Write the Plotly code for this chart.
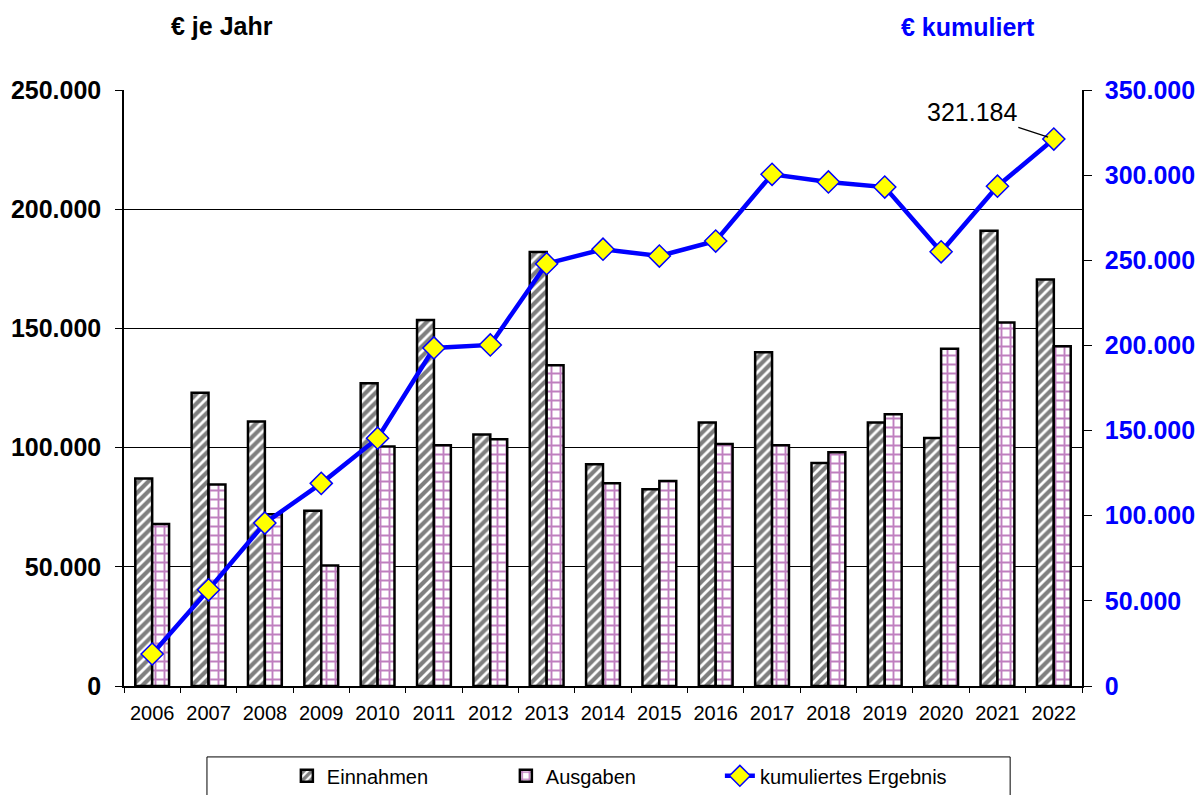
import plotly.graph_objects as go

years = [str(y) for y in range(2006, 2023)]
einnahmen = [87000, 123000, 111000, 73500, 127000, 153500, 105500, 182000, 93000,
             82500, 110500, 140000, 93500, 110500, 104000, 191000, 170500]
ausgaben = [68000, 84500, 72000, 50500, 100500, 101000, 103500, 134500, 85000,
            86000, 101500, 101000, 98000, 114000, 141500, 152500, 142500]
kumuliert = [18800, 56500, 95700, 119000, 145500, 198500, 200300, 248000, 256500,
             252500, 261300, 300500, 296000, 293000, 255000, 293500, 321184]

FONT = "Liberation Sans, Arial, sans-serif"

fig = go.Figure()
fig.add_trace(go.Bar(
    x=years, y=einnahmen, name="Einnahmen", legend="legend",
    marker=dict(color="white", line=dict(color="black", width=2.5),
                pattern=dict(shape="/", fgcolor="black", bgcolor="white", size=7, solidity=0.6)),
))
fig.add_trace(go.Bar(
    x=years, y=ausgaben, name="Ausgaben", legend="legend",
    marker=dict(color="white", line=dict(color="black", width=2.5),
                pattern=dict(shape="+", fgcolor="#800080", bgcolor="white", size=9, solidity=0.38)),
))
fig.add_trace(go.Scatter(
    x=years, y=kumuliert, name="kumuliertes Ergebnis", yaxis="y2", legend="legend2",
    mode="lines+markers",
    line=dict(color="#0000FF", width=4.5),
    marker=dict(symbol="diamond", size=17, color="#FFFF00", line=dict(color="#0000FF", width=1.5)),
))

last = len(years) - 1
fig.add_annotation(
    x=last, y=kumuliert[last], xref="x", yref="y2",
    text="{:,}".format(kumuliert[last]).replace(",", "."),
    showarrow=True, arrowhead=0, arrowwidth=1.2, arrowcolor="black",
    ax=-82, ay=-27, standoff=6,
    font=dict(family=FONT, size=25, color="black"),
)
fig.add_annotation(x=0.102, y=1.107, xref="paper", yref="paper", text="<b>€ je Jahr</b>",
                   xanchor="center", yanchor="middle",
                   showarrow=False, font=dict(family=FONT, size=25, color="black"))
fig.add_annotation(x=0.881, y=1.105, xref="paper", yref="paper", text="<b>€ kumuliert</b>",
                   xanchor="center", yanchor="middle",
                   showarrow=False, font=dict(family=FONT, size=25, color="#0000FF"))

# legend frame
fig.add_shape(type="rect", xref="paper", yref="paper", x0=0.0866, x1=0.925, y0=-0.119, y1=-0.2,
              line=dict(color="black", width=1), fillcolor="white", layer="below")

legend_common = dict(orientation="h", y=-0.118, yanchor="top", xanchor="left",
                     borderwidth=0, bgcolor="rgba(0,0,0,0)",
                     font=dict(family=FONT, size=20, color="black"))

fig.update_layout(
    width=1203, height=795,
    margin=dict(l=116, r=129, t=82, b=117, autoexpand=False),
    paper_bgcolor="white", plot_bgcolor="white",
    separators=",.",
    barmode="group", bargap=0.4, bargroupgap=0,
    font=dict(family=FONT, color="black"),
    showlegend=True,
    legend=dict(x=0.170, entrywidth=174, entrywidthmode="pixels", traceorder="normal",
                **legend_common),
    legend2=dict(x=0.622, **legend_common),
    xaxis=dict(type="category", categoryorder="array", categoryarray=years,
               range=[-0.5, len(years) - 0.5], autorange=False,
               showline=True, linecolor="black", linewidth=1.5, ticks="outside",
               tickson="boundaries", ticklen=5, tickcolor="black", automargin=False,
               tickangle=0, ticklabelstandoff=8,
               tickfont=dict(family=FONT, size=20, color="black"), showgrid=False),
    yaxis=dict(range=[0, 250000], dtick=50000, tickformat=",d", automargin=False,
               showline=True, linecolor="black", linewidth=1.5, ticks="outside", ticklen=7,
               tickcolor="black", showgrid=True, gridcolor="black", gridwidth=1,
               ticklabelstandoff=9,
               tickfont=dict(family=FONT, size=25, color="black", weight="bold"), zeroline=False),
    yaxis2=dict(range=[0, 350000], dtick=50000, tickformat=",d", overlaying="y", side="right",
                showline=True, linecolor="black", linewidth=1.5, ticks="outside", ticklen=8,
                tickcolor="black", showgrid=False, zeroline=False, automargin=False,
                ticklabelstandoff=8,
                tickfont=dict(family=FONT, size=25, color="#0000FF", weight="bold")),
)

fig.write_html("out.html")
